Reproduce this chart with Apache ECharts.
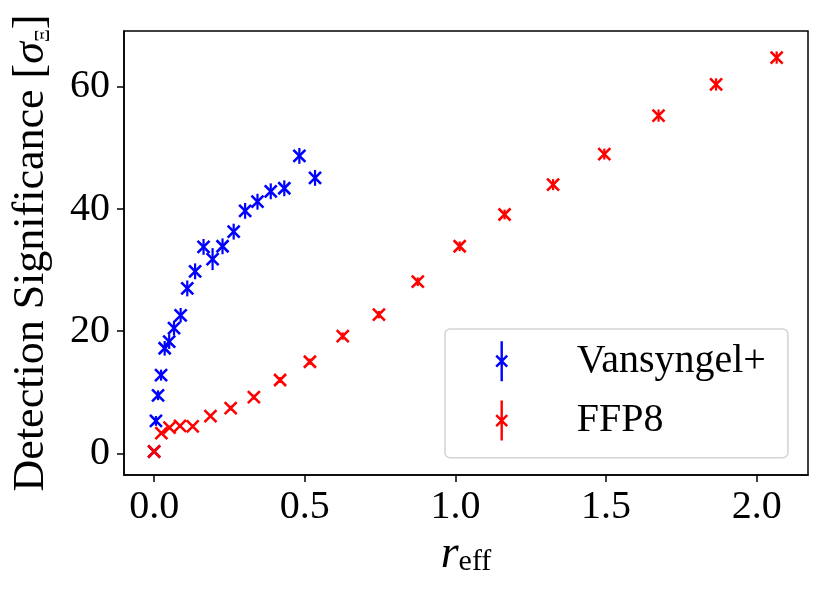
<!DOCTYPE html>
<html><head><meta charset="utf-8">
<script src="https://cdn.jsdelivr.net/npm/echarts@6/dist/echarts.min.js"></script>
<style>html,body{margin:0;padding:0;background:#fff}#c{width:830px;height:593px}</style>
</head><body><div id="c"></div>
<script>
// ---- data ----
const seriesNames = ['Vansyngel+', 'FFP8'];
const vansX = [0.0, 0.006, 0.013, 0.023, 0.035, 0.050, 0.066, 0.088, 0.110, 0.136, 0.164, 0.194, 0.227, 0.264, 0.302, 0.343, 0.387, 0.432, 0.482, 0.534];
const vansY = [0.3, 5.3, 9.5, 12.8, 17.2, 18.3, 20.5, 22.6, 27.0, 29.8, 33.8, 31.8, 33.9, 36.3, 39.7, 41.2, 42.9, 43.4, 48.7, 45.1];
const vansErr = [0.2, 0.8, 0.8, 0.9, 1.2, 1.2, 1.2, 1.2, 1.3, 1.3, 1.3, 1.8, 1.3, 1.3, 1.3, 1.3, 1.3, 1.3, 1.3, 1.3];
const ffpX = [0.0, 0.024, 0.051, 0.086, 0.128, 0.187, 0.254, 0.331, 0.418, 0.517, 0.626, 0.746, 0.875, 1.014, 1.163, 1.324, 1.494, 1.674, 1.865, 2.066];
const ffpY = [0.3, 3.3, 4.2, 4.5, 4.4, 6.1, 7.4, 9.2, 12.0, 15.0, 19.2, 22.7, 28.1, 33.9, 39.1, 44.0, 49.0, 55.3, 60.4, 64.8];
const ffpErr = [0.2, 0.3, 0.3, 0.3, 0.3, 0.3, 0.4, 0.4, 0.5, 0.5, 0.6, 0.6, 0.7, 0.8, 0.8, 0.9, 0.9, 1.0, 1.0, 1.0];
const xTicks = [0, 0.5, 1.0, 1.5, 2.0];
const yTicks = [0, 20, 40, 60];

// ---- styling ----
const FONT = 'Liberation Serif';
const BLUE = '#0000ff', RED = '#ff0000';
const X_PATH = 'path://M0 0L10 10M10 0L0 10';
const LEG_PATH = 'path://M6 0L6 40M0.5 14.5L11.5 25.5M11.5 14.5L0.5 25.5';

function errSeries(name, xs, ys, es, color) {
  return {
    type: 'custom', name: name, silent: true, z: 2,
    data: xs.map((x, i) => [x, ys[i], es[i]]),
    encode: { x: 0, y: 1 },
    renderItem: function (params, api) {
      const x = api.value(0), y = api.value(1), e = api.value(2);
      const p1 = api.coord([x, y - e]), p2 = api.coord([x, y + e]);
      return { type: 'line', shape: { x1: p1[0], y1: p1[1], x2: p2[0], y2: p2[1] },
        style: { stroke: color, lineWidth: 2.2, opacity: 1 } };
    }
  };
}
function markSeries(name, xs, ys, color) {
  return {
    type: 'scatter', name: name, z: 3,
    data: xs.map((x, i) => [x, ys[i]]),
    symbol: X_PATH, symbolSize: 12,
    itemStyle: { color: 'rgba(0,0,0,0)', borderColor: color, borderWidth: 2.6, opacity: 1 }
  };
}

const chart = echarts.init(document.getElementById('c'), null, { renderer: 'canvas' });
chart.setOption({
  animation: false,
  backgroundColor: '#fff',
  grid: { left: 123, right: 22, top: 31, bottom: 118, show: true, borderColor: '#000', borderWidth: 1.5, backgroundColor: 'rgba(0,0,0,0)' },
  xAxis: {
    type: 'value', min: -0.1, max: 2.17,
    axisLine: { show: true, onZero: false, lineStyle: { color: '#000', width: 1.5 } },
    axisTick: { show: true, customValues: xTicks, length: 7, lineStyle: { color: '#000', width: 1.5 } },
    axisLabel: { customValues: xTicks, formatter: v => v.toFixed(1), fontFamily: FONT, fontSize: 40, color: '#000', margin: 12 },
    splitLine: { show: false },
    name: '{i|r}{s|eff}', nameLocation: 'middle', nameGap: 52,
    nameTextStyle: { rich: {
      i: { fontFamily: FONT, fontStyle: 'italic', fontSize: 46, color: '#000', lineHeight: 44 },
      s: { fontFamily: FONT, fontSize: 30, color: '#000', lineHeight: 26, verticalAlign: 'bottom' }
    } }
  },
  yAxis: {
    type: 'value', min: -3.55, max: 69.15,
    axisLine: { show: true, onZero: false, lineStyle: { color: '#000', width: 1.5 } },
    axisTick: { show: true, customValues: yTicks, length: 7, lineStyle: { color: '#000', width: 1.5 } },
    axisLabel: { customValues: yTicks, fontFamily: FONT, fontSize: 40, color: '#000', margin: 14 },
    splitLine: { show: false },
    name: 'Detection Significance [{i|σ}{s|Ξ}]', nameLocation: 'middle', nameGap: 70,
    nameTextStyle: { fontFamily: FONT, fontSize: 44, color: '#000', lineHeight: 46, rich: {
      i: { fontFamily: FONT, fontStyle: 'italic', fontSize: 44, color: '#000', lineHeight: 46 },
      s: { fontFamily: FONT, fontSize: 20, color: '#000', lineHeight: 22, verticalAlign: 'bottom' }
    } }
  },
  legend: {
    orient: 'vertical', left: 445, top: 329, selectedMode: false,
    padding: [11, 22, 16, 50], itemWidth: 12, itemHeight: 40, itemGap: 17,
    borderColor: '#d3d3d3', borderWidth: 1.5, borderRadius: 5, backgroundColor: 'rgba(255,255,255,0.8)',
    textStyle: { fontFamily: FONT, fontSize: 40, color: '#000', lineHeight: 40, padding: [0, 0, 0, 64] },
    data: [
      { name: seriesNames[0], icon: LEG_PATH, itemStyle: { color: 'rgba(0,0,0,0)', borderColor: BLUE, borderWidth: 2.4, opacity: 1 } },
      { name: seriesNames[1], icon: LEG_PATH, itemStyle: { color: 'rgba(0,0,0,0)', borderColor: RED, borderWidth: 2.4, opacity: 1 } }
    ]
  },
  series: [
    errSeries(seriesNames[0], vansX, vansY, vansErr, BLUE),
    markSeries(seriesNames[0], vansX, vansY, BLUE),
    errSeries(seriesNames[1], ffpX, ffpY, ffpErr, RED),
    markSeries(seriesNames[1], ffpX, ffpY, RED)
  ]
});
</script></body></html>
